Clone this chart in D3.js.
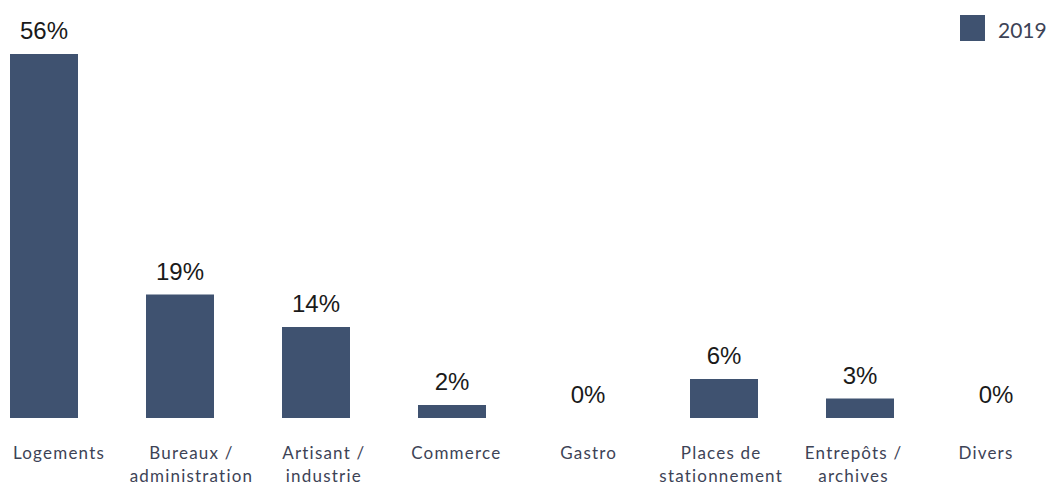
<!DOCTYPE html>
<html>
<head>
<meta charset="utf-8">
<script src="https://cdn.jsdelivr.net/npm/d3@7"></script>
<style>
  body { margin: 0; background: #fff; }
  svg { display: block; }
</style>
</head>
<body>
<svg width="1050" height="486"></svg>
<script>
// Données
let categories = [
    ["Logements"],
    ["Bureaux /", "administration"],
    ["Artisant /", "industrie"],
    ["Commerce"],
    ["Gastro"],
    ["Places de", "stationnement"],
    ["Entrepôts /", "archives"],
    ["Divers"]
];
let valeurs = [56, 19, 14, 2, 0, 6, 3, 0];
let serie = "2019";

let couleur = "#3f5270";

let svg = d3.select("svg");

// Echelles
let x = d3.scaleBand()
    .domain(d3.range(categories.length))
    .range([10, 1030])
    .paddingInner(0.5)
    .paddingOuter(0);

// les étiquettes ne sont pas tout à fait centrées sous les barres
let xEtiquette = d3.scalePoint()
    .domain(d3.range(categories.length))
    .range([59, 986]);

let y = d3.scaleLinear()
    .domain([0, 56])
    .range([418, 54]);

// Barres
svg.selectAll("rect.barre")
    .data(valeurs)
    .enter()
    .append("rect")
    .attr("class", "barre")
    .attr("x", (d, i) => x(i))
    .attr("y", d => y(d))
    .attr("width", x.bandwidth())
    .attr("height", d => y(0) - y(d))
    .style("fill", couleur);

// Valeurs au-dessus des barres
svg.selectAll("text.valeur")
    .data(valeurs)
    .enter()
    .append("text")
    .attr("class", "valeur")
    .attr("x", (d, i) => x(i) + x.bandwidth() / 2)
    .attr("y", d => y(d) - 15)
    .attr("text-anchor", "middle")
    .style("font-family", "Liberation Sans, Arial, sans-serif")
    .style("font-size", "24px")
    .style("fill", "#1a1a1a")
    .text(d => d + "%");

// Etiquettes des catégories
let etiquettes = svg.selectAll("text.categorie")
    .data(categories)
    .enter()
    .append("text")
    .attr("class", "categorie")
    .attr("x", (d, i) => xEtiquette(i))
    .attr("y", 459)
    .attr("text-anchor", "middle")
    .style("font-family", "Lato, sans-serif")
    .style("font-size", "17px")
    .style("letter-spacing", "1.2px")
    .style("fill", "#3d4356");

etiquettes.selectAll("tspan")
    .data(d => d)
    .enter()
    .append("tspan")
    .attr("x", function () { return d3.select(this.parentNode).attr("x"); })
    .attr("dy", (d, i) => i == 0 ? 0 : 23)
    .text(d => d);

// Légende
let legende = svg.append("g");
legende.append("rect")
    .attr("x", 960)
    .attr("y", 15)
    .attr("width", 25)
    .attr("height", 26)
    .style("fill", couleur);
legende.append("text")
    .attr("x", 998)
    .attr("y", 38)
    .style("font-family", "Lato, sans-serif")
    .style("font-size", "21px")
    .style("fill", "#3d4356")
    .text(serie);
</script>
</body>
</html>
